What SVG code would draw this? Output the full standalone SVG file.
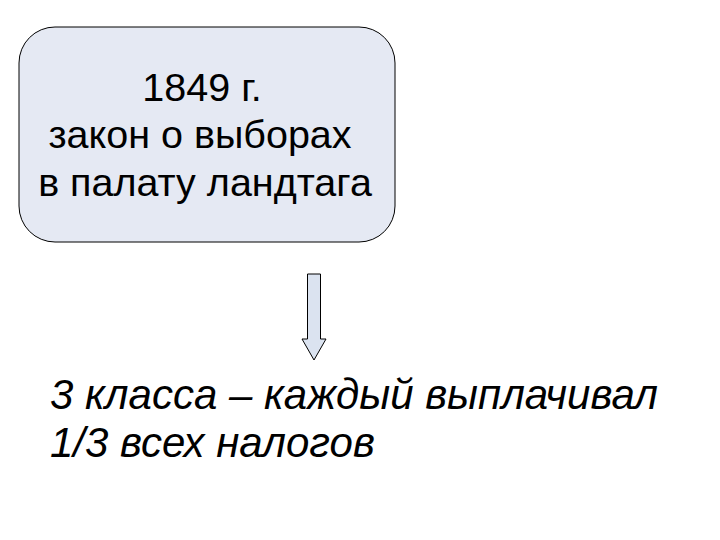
<svg xmlns="http://www.w3.org/2000/svg" width="720" height="540" viewBox="0 0 720 540">
<style>
.t{font-family:"Liberation Sans",Arial,sans-serif;fill:#000}
.box{fill:#e5e9f3;stroke:#000;stroke-width:1}
</style>
<rect width="720" height="540" fill="#fff"/>
<g id="node-law">
<rect class="box" x="19" y="27" width="376" height="215" rx="36" ry="36"/>
<text class="t" x="202" y="101" font-size="39.5" text-anchor="middle">1849 г.</text>
<text class="t" x="200" y="148" font-size="39.5" text-anchor="middle">закон о выборах</text>
<text class="t" x="205" y="196" font-size="39.5" text-anchor="middle">в палату ландтага</text>
</g>
<g id="connectors">
<path d="M307.5,274 H320.5 V339 H326 L314,360 L302,339 H307.5 Z" fill="#dbe3f0" stroke="#000" stroke-width="1"/>
</g>
<g id="node-result">
<text class="t" x="50" y="409" font-size="42" font-style="italic">3 класса – каждый выплачивал</text>
<text class="t" x="50" y="457" font-size="42" font-style="italic">1/3 всех налогов</text>
</g>
</svg>
